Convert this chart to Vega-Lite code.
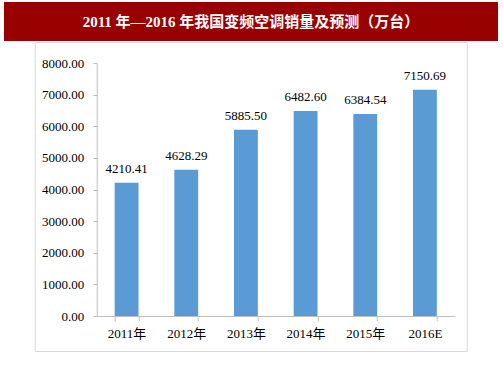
{
  "$schema": "https://vega.github.io/schema/vega-lite/v6.json",
  "padding": {"left": 4, "top": 2, "right": 5, "bottom": 28},
  "background": "#ffffff",
  "spacing": 0,
  "center": true,
  "config": {"view": {"stroke": null}},
  "vconcat": [
    {
      "width": 494,
      "height": 39,
      "view": {"fill": "#990000", "stroke": null},
      "data": {"values": [{"title": "2011 年—2016 年我国变频空调销量及预测（万台）"}]},
      "mark": {"type": "text", "align": "center", "baseline": "middle", "color": "#ffffff", "font": "Liberation Serif, Noto Sans CJK SC", "fontSize": 15, "fontWeight": "bold"},
      "encoding": {"text": {"field": "title", "type": "nominal"}}
    },
    {
      "width": 432,
      "height": 309,
      "view": {"stroke": "#d9d9d9", "strokeWidth": 1},
      "data": {"values": [
        {"year": "2011年", "value": 4210.41},
        {"year": "2012年", "value": 4628.29},
        {"year": "2013年", "value": 5885.50},
        {"year": "2014年", "value": 6482.60},
        {"year": "2015年", "value": 6384.54},
        {"year": "2016E", "value": 7150.69}
      ]},
      "encoding": {
        "x": {
          "field": "year", "type": "nominal", "sort": null,
          "scale": {"range": [62, 420], "paddingInner": 0.6, "paddingOuter": 0.3},
          "axis": {"title": null, "offset": -35, "labelAngle": 0, "tickBand": "extent", "tickSize": 5, "domainColor": "#bfbfbf", "tickColor": "#bfbfbf", "labelFont": "Liberation Serif, Noto Sans CJK SC", "labelFontSize": 13, "labelColor": "#000000", "labelPadding": 6}
        },
        "y": {
          "field": "value", "type": "quantitative",
          "scale": {"domain": [0, 8000], "range": [274, 21], "nice": false},
          "axis": {"title": null, "offset": -62, "grid": false, "format": ".2f", "values": [0, 1000, 2000, 3000, 4000, 5000, 6000, 7000, 8000], "tickSize": 4, "domainColor": "#bfbfbf", "tickColor": "#bfbfbf", "labelFont": "Liberation Serif", "labelFontSize": 13, "labelColor": "#000000", "labelPadding": 9}
        }
      },
      "layer": [
        {"mark": {"type": "bar", "color": "#5B9BD5"}},
        {"mark": {"type": "text", "baseline": "bottom", "dy": -7, "font": "Liberation Serif", "fontSize": 13, "color": "#000000"},
         "encoding": {"text": {"field": "value", "type": "quantitative", "format": ".2f"}}}
      ]
    }
  ]
}
